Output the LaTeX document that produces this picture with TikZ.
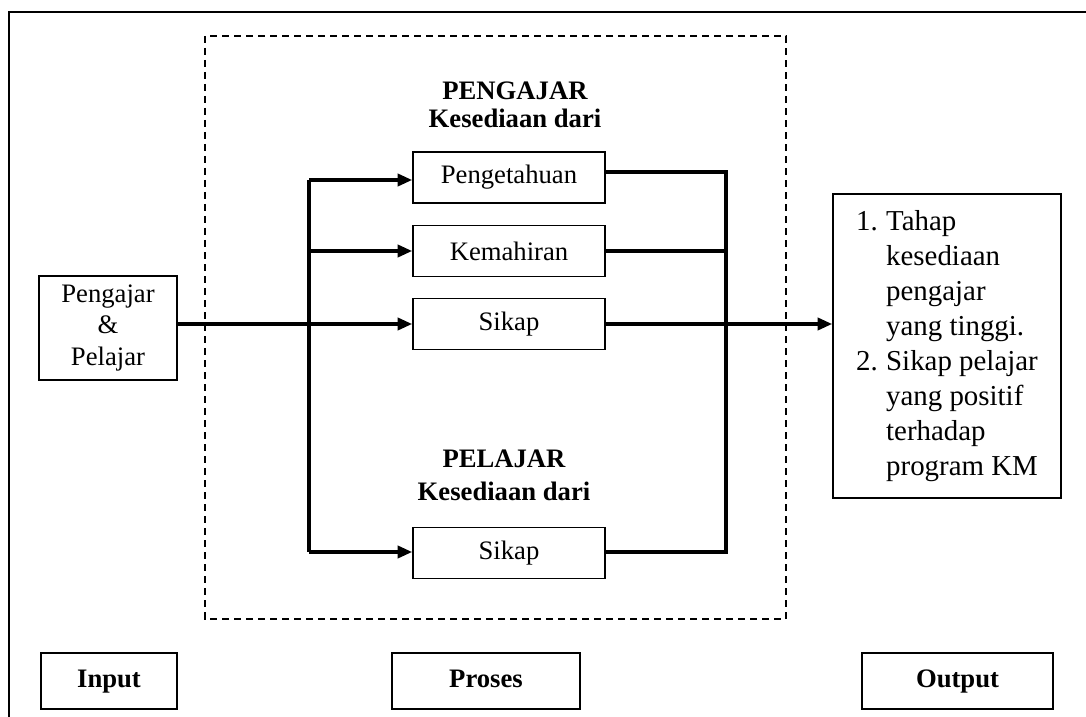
\documentclass[tikz,border=0pt]{standalone}
\usepackage{fontspec}
\setmainfont{Liberation Serif}
\usetikzlibrary{arrows.meta}
\begin{document}
\begin{tikzpicture}[
    x=0.45pt, y=-0.45pt,
    font=\fontsize{12pt}{15.75pt}\selectfont,
    box/.style={rectangle, draw=black, line width=0.8pt, minimum width=86.4pt, minimum height=23pt, align=center, inner sep=2pt},
    tagbox/.style={rectangle, draw=black, line width=1.1pt, minimum height=25.2pt, text height=8.2pt, text depth=2.6pt, align=center, font=\fontsize{12pt}{15pt}\selectfont\bfseries},
    title/.style={align=center, font=\fontsize{12pt}{15pt}\selectfont\bfseries},
    arrow/.style={-{Triangle[length=6.5pt,width=5.5pt]}, line width=1.4pt, black},
    line/.style={line width=1.4pt, black}
]
\useasboundingbox (0,0) rectangle (1086,717);
\draw[line width=0.9pt] (9,717) -- (9,12) -- (1086,12);
\draw[line width=0.8pt, dash pattern=on 3.2pt off 2.2pt] (205,36) rectangle (786,619);

\node[box, minimum width=62pt, minimum height=47pt, font=\fontsize{12pt}{14pt}\selectfont] (input) at (108,328) {Pengajar\\\&\\Pelajar};
\node[title] (pengajar) at (515,105) {PENGAJAR\\[-2.5pt]Kesediaan dari};
\node[box] (tahu) at (509,177.5) {Pengetahuan};
\node[box] (mahir) at (509,251) {Kemahiran};
\node[box] (sikap) at (509,324) {Sikap};
\node[title] (pelajar) at (504,475) {PELAJAR\\Kesediaan dari};
\node[box] (sikapp) at (509,553) {Sikap};
\node[box, minimum width=102.6pt, minimum height=136.8pt, font=\fontsize{13pt}{15.75pt}\selectfont] (hasil) at (947,346) {%
  \begin{tabular}{@{}p{13.5pt}@{}l@{}}
  1. & Tahap\\ & kesediaan\\ & pengajar\\ & yang tinggi.\\
  2. & Sikap pelajar\\ & yang positif\\ & terhadap\\ & program KM
  \end{tabular}};

\node[tagbox, minimum width=61.2pt] (tinput) at (109,681) {Input};
\node[tagbox, minimum width=84.6pt] (tproses) at (486,681) {Proses};
\node[tagbox, minimum width=86pt] (toutput) at (957.5,681) {Output};

\coordinate (lt) at (309,180);
\coordinate (lb) at (309,552);
\coordinate (rt) at (726,172);
\coordinate (rb) at (726,552);

\draw[line] (lt) -- (lb);
\draw[arrow] (lt) -- (lt -| tahu.west);
\draw[arrow] (lt |- mahir) -- (mahir.west);
\draw[arrow] (lb) -- (lb -| sikapp.west);
\draw[arrow] (input.east |- sikap) -- (sikap.west);
\draw[line] (tahu.east |- rt) -- (rt) -- (rb) -- (rb -| sikapp.east);
\draw[line] (mahir.east) -- (mahir.east -| rt);
\draw[arrow] (sikap.east) -- (sikap.east -| hasil.west);
\end{tikzpicture}
\end{document}
